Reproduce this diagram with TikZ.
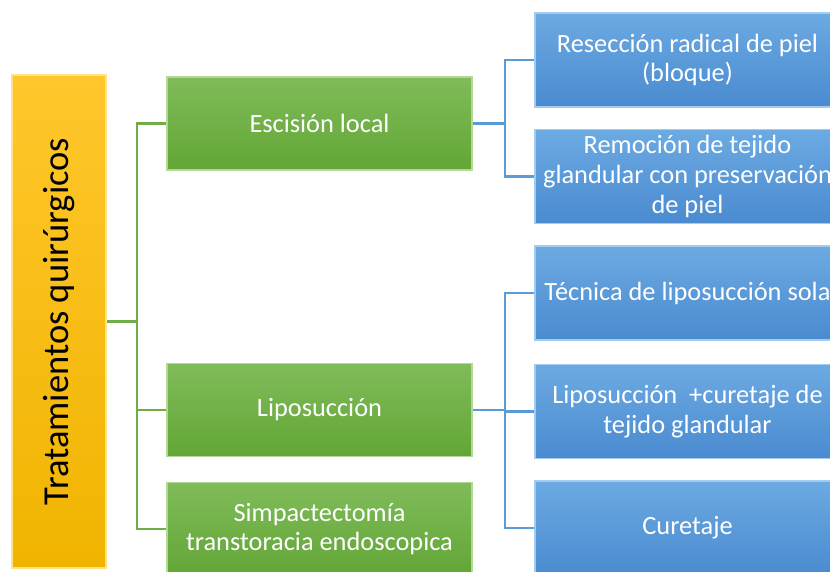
\documentclass[tikz,border=0pt]{standalone}
\usepackage{fontspec}
\setmainfont{Carlito}
\usetikzlibrary{positioning,calc}
\definecolor{amarillosup}{HTML}{FFC72C}
\definecolor{amarilloinf}{HTML}{F0B400}
\definecolor{amarilloborde}{HTML}{FFE38A}
\definecolor{verdesup}{HTML}{80BC5A}
\definecolor{verdeinf}{HTML}{62A636}
\definecolor{verdeborde}{HTML}{B2D99A}
\definecolor{azulsup}{HTML}{6CAAE2}
\definecolor{azulinf}{HTML}{4A8BD0}
\definecolor{azulborde}{HTML}{A3CBEE}
\definecolor{verdelinea}{HTML}{70AD47}
\definecolor{azullinea}{HTML}{5B9BD5}
\tikzset{
  raiz/.style={rectangle, draw=amarilloborde, line width=1pt, top color=amarillosup,
    bottom color=amarilloinf, minimum width=1.88cm, minimum height=9.86cm, inner sep=0pt,
    font=\fontsize{20.8}{24}\selectfont},
  rama/.style={rectangle, draw=verdeborde, line width=1pt, top color=verdesup,
    bottom color=verdeinf, minimum width=6.1cm, minimum height=1.86cm, align=center,
    text=white, font=\fontsize{15}{17}\selectfont, inner sep=2pt},
  hoja/.style={rectangle, draw=azulborde, line width=1pt, top color=azulsup,
    bottom color=azulinf, minimum width=6.1cm, minimum height=1.88cm, align=center,
    text=white, font=\fontsize{15}{17}\selectfont, inner sep=2pt},
  lineaverde/.style={verdelinea, line width=1.4pt},
  lineaazul/.style={azullinea, line width=1.4pt},
}
\begin{document}
\begin{tikzpicture}
  \useasboundingbox (0,0) rectangle (16.6,-11.42);
  % raiz
  \node[raiz] (trat) at (1.18,-6.43) {\rotatebox{90}{Tratamientos quirúrgicos}};
  % ramas
  \node[rama] (esc) at (6.39,-2.47) {Escisión local};
  \node[rama] (lipo) at (6.39,-8.2) {Liposucción};
  \node[rama] (simp) at (6.39,-10.58) {Simpactectomía\\transtoracia endoscopica};
  % hojas
  \node[hoja] (resec) at (13.75,-1.2) {Resección radical de piel\\(bloque)};
  \node[hoja] (remo) at (13.75,-3.53) {Remoción de tejido\\glandular con preservación\\de piel};
  \node[hoja] (tecn) at (13.75,-5.86) {Técnica de liposucción sola};
  \node[hoja] (lipcur) at (13.75,-8.23) {Liposucción \ +curetaje de\\tejido glandular};
  \node[hoja] (cure) at (13.75,-10.56) {Curetaje};
  % conectores verdes
  \draw[lineaverde] (trat.east) -- +(0.6,0) coordinate (tv);
  \foreach \n in {esc,lipo,simp}
    \draw[lineaverde] (tv) |- (\n.west);
  % conectores azules
  \draw[lineaazul] (esc.east) -- +(0.64,0) coordinate (ta1);
  \foreach \n in {resec,remo}
    \draw[lineaazul] (ta1) |- (\n.west);
  \draw[lineaazul] (lipo.east) -- +(0.64,0) coordinate (ta2);
  \foreach \n in {tecn,lipcur,cure}
    \draw[lineaazul] (ta2) |- (\n.west);
\end{tikzpicture}
\end{document}
